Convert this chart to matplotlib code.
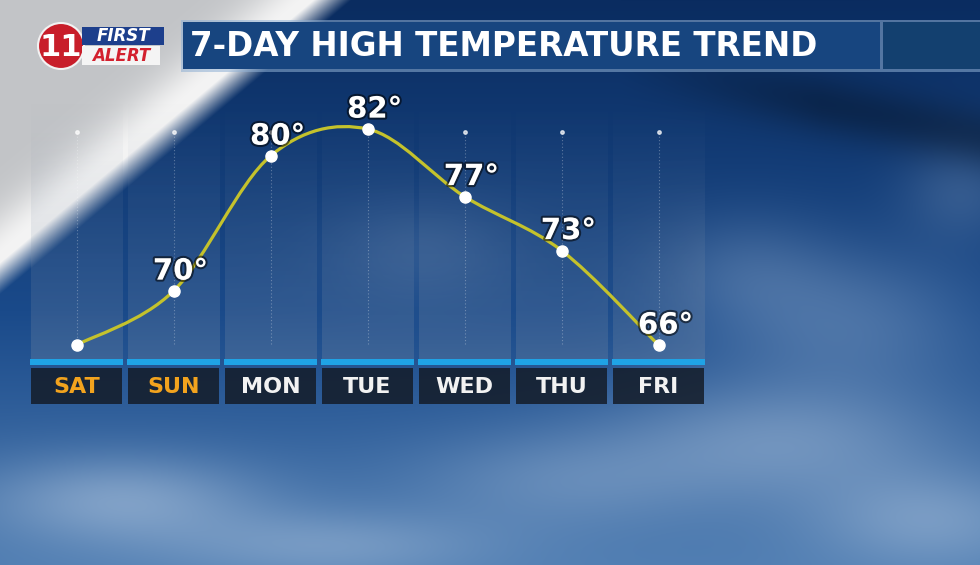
import numpy as np
import matplotlib
matplotlib.use("Agg")
import matplotlib.pyplot as plt
from matplotlib.path import Path
from matplotlib.patches import PathPatch, Rectangle, Circle
import matplotlib.patheffects as pe

days = ["SAT", "SUN", "MON", "TUE", "WED", "THU", "FRI"]
highs = [66, 70, 80, 82, 77, 73, 66]
show_label = [False, True, True, True, True, True, True]
weekend = ["SAT", "SUN"]
title = "7-DAY HIGH TEMPERATURE TREND"

W, H = 980, 565


def hex2rgb(h):
    h = h.lstrip("#")
    return np.array([int(h[i:i + 2], 16) for i in (0, 2, 4)]) / 255.0


# ---- background (sky photo stand-in) ----
yy, xx = np.mgrid[0:H, 0:W].astype(float)
top = hex2rgb("#0a2c60")
mid = hex2rgb("#1a4a8a")
bot = hex2rgb("#4f7db2")
t = yy / H
img = np.where((t < 0.55)[..., None],
               top + (mid - top) * (t / 0.55)[..., None],
               mid + (bot - mid) * ((t - 0.55) / 0.45)[..., None])

cloud = hex2rgb("#b0c6df")
blobs = [(120, 500, 140, 45, 0.55), (330, 545, 160, 35, 0.4), (560, 480, 150, 50, 0.3),
         (780, 440, 170, 60, 0.45), (930, 520, 120, 50, 0.45), (850, 320, 130, 70, 0.3),
         (740, 270, 90, 60, 0.2), (420, 250, 90, 50, 0.15), (960, 190, 60, 50, 0.2)]
cw = np.zeros((H, W))
for bx, by, sx, sy, a in blobs:
    cw += a * np.exp(-(((xx - bx) / sx) ** 2 + ((yy - by) / sy) ** 2))
cw = np.clip(cw, 0, 0.8)
img = img * (1 - cw[..., None]) + cloud * cw[..., None]

# soft dark diagonal shadow across upper right
d = (yy - 60) - (xx - 600) * 0.2
fade = np.clip((xx - 620) / 200, 0, 1)
shade = 0.3 * np.exp(-(d / 30) ** 2) * fade
img = img * (1 - shade[..., None])

# white diagonal streak top-left
s = xx / 340 + yy / 285 - 1
grey = hex2rgb("#c2c4c7")
white = hex2rgb("#f4f4f4")
band = np.exp(-((s + 0.1) / 0.16) ** 2)
wcol = grey * (1 - band[..., None]) + white * band[..., None]
w = np.clip((0.03 - s) * 9, 0, 1)
img = img * (1 - w[..., None]) + wcol * w[..., None]
img = np.clip(img, 0, 1)

fig = plt.figure(figsize=(9.8, 5.65), dpi=100)
bg = fig.add_axes([0, 0, 1, 1])
bg.imshow(img, extent=(0, W, H, 0), aspect="auto")
bg.set_xlim(0, W)
bg.set_ylim(H, 0)
bg.axis("off")

# title banner
bg.add_patch(Rectangle((181, 20), 799, 52, facecolor="#8fb0d4", alpha=0.55, lw=0))
bg.add_patch(Rectangle((183, 22), 697, 47, facecolor="#17457f", lw=0))
bg.add_patch(Rectangle((883, 22), 97, 47, facecolor="#13406f", lw=0))
bg.text(190, 46, title, color="white", fontsize=23.5, fontweight="bold",
        family="DejaVu Sans", va="center", ha="left")

# logo
bg.add_patch(Circle((61, 46), 23, facecolor="#c81e2a", edgecolor="#f2f2f2", lw=1.5))
bg.text(61, 47, "11", color="white", fontsize=22, fontweight="bold", ha="center", va="center",
        family="DejaVu Sans")
bg.add_patch(Rectangle((82, 27), 82, 18, facecolor="#1d3f8c"))
bg.text(123, 36, "FIRST", color="white", fontsize=12, fontweight="bold", style="italic",
        ha="center", va="center", family="DejaVu Sans")
bg.add_patch(Rectangle((82, 46), 78, 19, facecolor="#f4f4f4"))
bg.text(121, 56, "ALERT", color="#d3202e", fontsize=12, fontweight="bold", style="italic",
        ha="center", va="center", family="DejaVu Sans")

# ---- chart ----
L, R = 28, 707
px_per_deg = 13.5
y_top_px, y_bot_px = 100, 360
ylo = 80 - (y_bot_px - 156) / px_per_deg
yhi = 80 + (156 - y_top_px) / px_per_deg

ax = fig.add_axes([L / W, (H - y_bot_px) / H, (R - L) / W, (y_bot_px - y_top_px) / H])
ax.axis("off")
x = np.arange(len(days))

# translucent day columns, fading out toward the top
grad = np.zeros((64, 1, 4))
grad[..., :3] = hex2rgb("#7d8ea6")
grad[:, 0, 3] = np.linspace(0.28, 0.0, 64)
for xi in x:
    ax.imshow(grad, extent=(xi - 0.47, xi + 0.47, ylo, yhi), origin="lower",
              aspect="auto", zorder=1)
    ax.axvline(xi, ymin=0.06, ymax=0.877, color="white", alpha=0.3, lw=0.8, ls=(0, (1, 2)),
               zorder=2)
    ax.plot(xi, ylo + 0.877 * (yhi - ylo), "o", color="white", ms=2.5, alpha=0.7, zorder=2)
ax.set_xlim(-0.5, len(days) - 0.5)
ax.set_ylim(ylo, yhi)

# smooth curve through points (Catmull-Rom as cubic Bezier)
pts = np.column_stack([x, highs]).astype(float)
ext = np.vstack([pts[0], pts, pts[-1]])
verts = [tuple(pts[0])]
codes = [Path.MOVETO]
for i in range(len(pts) - 1):
    p0, p1, p2, p3 = ext[i], ext[i + 1], ext[i + 2], ext[i + 3]
    c1 = p1 + (p2 - p0) / 6
    c2 = p2 - (p3 - p1) / 6
    verts += [tuple(c1), tuple(c2), tuple(p2)]
    codes += [Path.CURVE4] * 3
ax.add_patch(PathPatch(Path(verts, codes), facecolor="none", edgecolor="#c4c22c", lw=2.3,
                       clip_on=False, zorder=4))
ax.plot(x, highs, "o", color="white", ms=8, zorder=5, clip_on=False)

for xi, v, show in zip(x, highs, show_label):
    if show:
        ax.annotate(f"{v}°", (xi, v), xytext=(5, 14), textcoords="offset points",
                    ha="center", va="center", color="white", fontsize=21, fontweight="bold",
                    family="DejaVu Sans", zorder=6,
                    path_effects=[pe.withStroke(linewidth=3, foreground=(0, 0, 0, 0.55))])

# blue strip
strip = fig.add_axes([L / W, (H - 365) / H, (R - L) / W, 6 / H])
strip.set_xlim(-0.5, len(days) - 0.5)
strip.set_ylim(0, 1)
strip.axis("off")
strip.bar(x, 1, width=0.95, color="#1fa3e6")

# day labels
lab = fig.add_axes([L / W, (H - 404) / H, (R - L) / W, 36 / H])
lab.set_xlim(-0.5, len(days) - 0.5)
lab.set_ylim(0, 1)
lab.axis("off")
lab.bar(x, 1, width=0.94, color="#141c28", alpha=0.85)
for xi, d in zip(x, days):
    lab.text(xi, 0.47, d, ha="center", va="center", fontsize=16, fontweight="bold",
             family="DejaVu Sans", color="#f2a31e" if d in weekend else "#f2f2f2")

fig.savefig("out.png", dpi=100)
